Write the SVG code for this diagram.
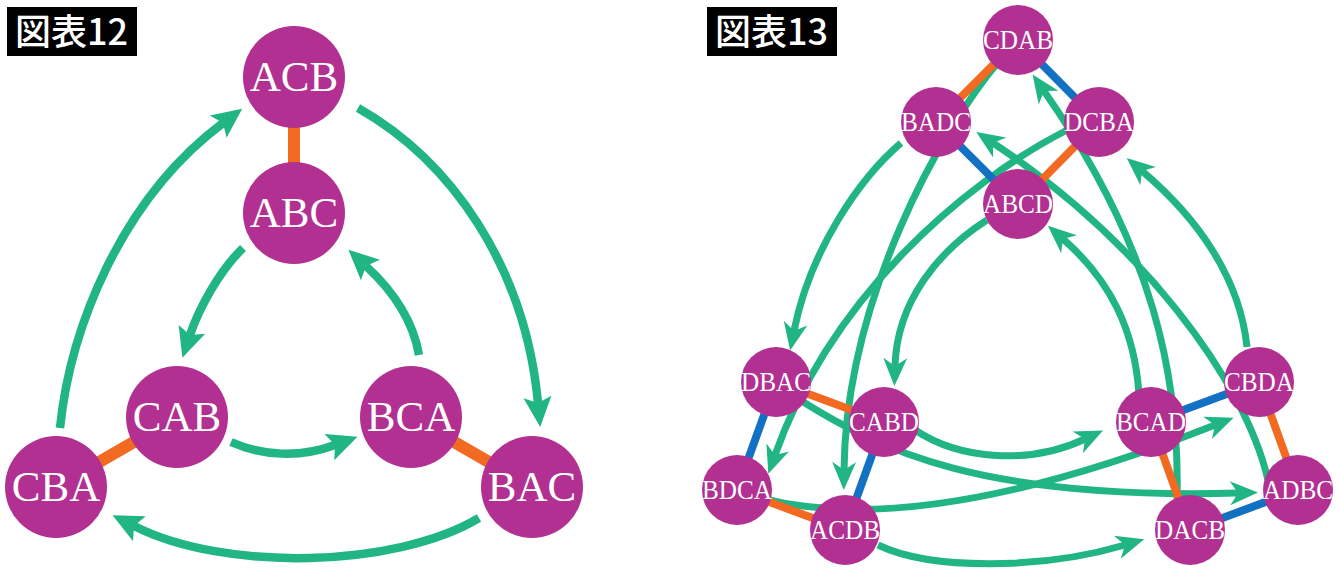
<svg xmlns="http://www.w3.org/2000/svg" width="1340" height="573" viewBox="0 0 1340 573">
<style>
.arr12{fill:none;stroke:#21b584;stroke-width:8.5;marker-end:url(#ah12)}
.arr13{fill:none;stroke:#21b584;stroke-width:7;marker-end:url(#ah13)}
.or12{stroke:#f26a21;stroke-width:12}
.or{stroke:#f26a21;stroke-width:8}
.bl{stroke:#1271c2;stroke-width:8}
.node{fill:#b13091}
.t12{font-family:"Liberation Serif","Times New Roman",serif;font-size:43px;fill:#fff;text-anchor:middle}
.t13{font-family:"Liberation Serif","Times New Roman",serif;font-size:27px;fill:#fff;text-anchor:middle}
.title{font-family:"Noto Sans CJK JP","Noto Sans CJK SC",sans-serif;font-size:36px;font-weight:500;fill:#fff}
</style>
<defs>
<marker id="ah12" markerUnits="userSpaceOnUse" viewBox="-10 -16 38 32" markerWidth="38" markerHeight="32" refX="0" refY="0" orient="auto">
<path d="M24,0 L-6,-14 L0,0 L-6,14 Z" fill="#21b584"/>
</marker>
<marker id="ah13" markerUnits="userSpaceOnUse" viewBox="-10 -14 34 28" markerWidth="34" markerHeight="28" refX="0" refY="0" orient="auto">
<path d="M20,0 L-8,-12 L0,0 L-8,12 Z" fill="#21b584"/>
</marker>
</defs>
<rect x="0" y="0" width="1340" height="573" fill="#fff"/>

<g id="title12"><rect x="7" y="7" width="130" height="49" fill="#000"/><text class="title" x="15" y="45">図表12</text></g>
<g id="title13"><rect x="707" y="7" width="130" height="49" fill="#000"/><text class="title" x="715" y="45">図表13</text></g>

<g id="connectors12">
<path class="arr12" d="M60,428 C 70,330 120,200 223,123"/>
<path class="arr12" d="M358,108 C 450,160 525,265 538,403"/>
<path class="arr12" d="M243,248 C 220,270 199,308 190,335"/>
<path class="arr12" d="M419,355 C 413,320 392,290 366,266"/>
<path class="arr12" d="M231,442 C 262,456 300,458 335,445"/>
<path class="arr12" d="M479,518 C 395,568 225,572 134,526"/>
<line class="or12" x1="294" y1="77" x2="294" y2="213"/>
<line class="or12" x1="56" y1="487" x2="177" y2="417"/>
<line class="or12" x1="411" y1="417" x2="532" y2="487"/>
</g>

<g id="connectors13">
<path class="arr13" d="M901,143 C 860,178 810,250 794,331"/>
<path class="arr13" d="M1000,60 C 940,130 846,300 844,470"/>
<path class="arr13" d="M1067,130 C 960,185 830,300 775,455"/>
<path class="arr13" d="M987,220 C 940,250 897,300 895,366"/>
<path class="arr13" d="M1139,395 C 1135,330 1110,280 1063,239"/>
<path class="arr13" d="M1247,347 C 1240,280 1200,220 1142,171"/>
<path class="arr13" d="M1177,500 C 1180,380 1155,250 1044,91"/>
<path class="arr13" d="M1268,480 C 1245,380 1140,240 993,143"/>
<path class="arr13" d="M915,430 C 960,460 1030,465 1085,439"/>
<path class="arr13" d="M800,400 C 880,450 980,500 1238,493"/>
<path class="arr13" d="M750,495 C 850,525 1000,510 1215,425"/>
<path class="arr13" d="M878,545 C 930,570 1040,570 1125,545"/>
<line class="or" x1="1018" y1="40" x2="936" y2="122"/>
<line class="or" x1="1099" y1="122" x2="1018" y2="204"/>
<line class="or" x1="776" y1="382" x2="884" y2="422"/>
<line class="or" x1="737" y1="490" x2="845" y2="530"/>
<line class="or" x1="1259" y1="382" x2="1298" y2="490"/>
<line class="or" x1="1151" y1="422" x2="1190" y2="530"/>
<line class="bl" x1="1018" y1="40" x2="1099" y2="122"/>
<line class="bl" x1="936" y1="122" x2="1018" y2="204"/>
<line class="bl" x1="776" y1="382" x2="737" y2="490"/>
<line class="bl" x1="884" y1="422" x2="845" y2="530"/>
<line class="bl" x1="1151" y1="422" x2="1259" y2="382"/>
<line class="bl" x1="1190" y1="530" x2="1298" y2="490"/>
</g>

<g id="n12-ACB"><circle class="node" cx="294" cy="77" r="51"/><text class="t12" x="294" y="91">ACB</text></g>
<g id="n12-ABC"><circle class="node" cx="294" cy="213" r="51"/><text class="t12" x="294" y="227">ABC</text></g>
<g id="n12-CAB"><circle class="node" cx="177" cy="417" r="51"/><text class="t12" x="177" y="431">CAB</text></g>
<g id="n12-BCA"><circle class="node" cx="411" cy="417" r="51"/><text class="t12" x="411" y="431">BCA</text></g>
<g id="n12-CBA"><circle class="node" cx="56" cy="487" r="51"/><text class="t12" x="56" y="501">CBA</text></g>
<g id="n12-BAC"><circle class="node" cx="532" cy="487" r="51"/><text class="t12" x="532" y="501">BAC</text></g>

<g id="n13-CDAB"><circle class="node" cx="1018" cy="40" r="35"/><text class="t13" x="1018" y="49" textLength="70" lengthAdjust="spacingAndGlyphs">CDAB</text></g>
<g id="n13-BADC"><circle class="node" cx="936" cy="122" r="35"/><text class="t13" x="936" y="131" textLength="70" lengthAdjust="spacingAndGlyphs">BADC</text></g>
<g id="n13-DCBA"><circle class="node" cx="1099" cy="122" r="35"/><text class="t13" x="1099" y="131" textLength="70" lengthAdjust="spacingAndGlyphs">DCBA</text></g>
<g id="n13-ABCD"><circle class="node" cx="1018" cy="204" r="35"/><text class="t13" x="1018" y="213" textLength="70" lengthAdjust="spacingAndGlyphs">ABCD</text></g>
<g id="n13-DBAC"><circle class="node" cx="776" cy="382" r="35"/><text class="t13" x="776" y="391" textLength="70" lengthAdjust="spacingAndGlyphs">DBAC</text></g>
<g id="n13-CABD"><circle class="node" cx="884" cy="422" r="35"/><text class="t13" x="884" y="431" textLength="70" lengthAdjust="spacingAndGlyphs">CABD</text></g>
<g id="n13-BDCA"><circle class="node" cx="737" cy="490" r="35"/><text class="t13" x="737" y="499" textLength="70" lengthAdjust="spacingAndGlyphs">BDCA</text></g>
<g id="n13-ACDB"><circle class="node" cx="845" cy="530" r="35"/><text class="t13" x="845" y="539" textLength="70" lengthAdjust="spacingAndGlyphs">ACDB</text></g>
<g id="n13-BCAD"><circle class="node" cx="1151" cy="422" r="35"/><text class="t13" x="1151" y="431" textLength="70" lengthAdjust="spacingAndGlyphs">BCAD</text></g>
<g id="n13-CBDA"><circle class="node" cx="1259" cy="382" r="35"/><text class="t13" x="1259" y="391" textLength="70" lengthAdjust="spacingAndGlyphs">CBDA</text></g>
<g id="n13-ADBC"><circle class="node" cx="1298" cy="490" r="35"/><text class="t13" x="1298" y="499" textLength="70" lengthAdjust="spacingAndGlyphs">ADBC</text></g>
<g id="n13-DACB"><circle class="node" cx="1190" cy="530" r="35"/><text class="t13" x="1190" y="539" textLength="70" lengthAdjust="spacingAndGlyphs">DACB</text></g>
</svg>
